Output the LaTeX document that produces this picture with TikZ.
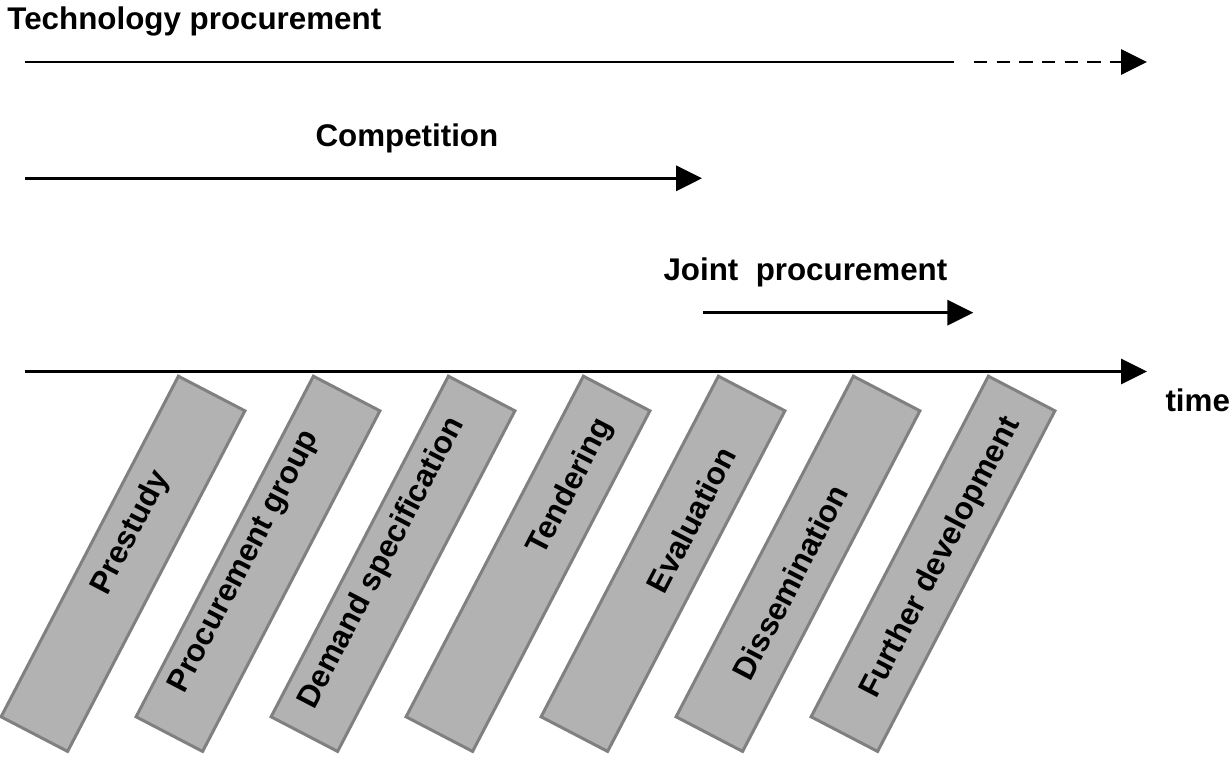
\documentclass[tikz,border=0pt]{standalone}
\usepackage{fontspec}
\setmainfont{Liberation Sans}
\usetikzlibrary{arrows.meta}

\tikzset{every picture/.style={line width=0.75pt}}
\tikzset{
	phase/.style={draw={rgb, 255:red, 128; green, 128; blue, 128 }, fill={rgb, 255:red, 178; green, 178; blue, 178 }, line width=2.25pt, minimum width=288pt, minimum height=56.25pt, inner sep=0pt, rotate=62.5},
	phase label/.style={font=\fontsize{23.5}{28}\selectfont\bfseries, inner sep=0pt, rotate=62.5},
	head label/.style={font=\fontsize{23.5}{28}\selectfont\bfseries, inner sep=0pt, anchor=base west},
	period/.style={line width=2.6pt, -{Triangle[length=19.5pt,width=18.75pt]}}
}

\begin{document}
\begin{tikzpicture}[x=0.75pt,y=0.75pt,yscale=-1,xscale=1]
	\useasboundingbox (0,0) rectangle (1229,758);

	%Arrow ends
	\coordinate (tp start) at (25,62);
	\coordinate (tp solid end) at (954,62);
	\coordinate (tp dash start) at (974,62);
	\coordinate (tp end) at (1147,62);
	\coordinate (comp start) at (25,178.3);
	\coordinate (comp end) at (702,178.3);
	\coordinate (joint start) at (703,312.7);
	\coordinate (joint end) at (973.3,312.7);
	\coordinate (time start) at (25,371.5);
	\coordinate (time end) at (1147,371.5);

	%Straight Lines
	\draw [line width=1.7pt] (tp start) -- (tp solid end);
	\draw [period, line width=2.2pt, dash pattern=on 10pt off 7pt] (tp dash start) -- (tp end);
	\draw [period] (comp start) -- (comp end);
	\draw [period] (joint start) -- (joint end);
	\draw [period] (time start) -- (time end);

	%Shapes: phase boxes
	\node [phase] (prestudy) at (123,563.8) {};
	\node [phase] (group) at (258,563.8) {};
	\node [phase] (demand) at (393,563.8) {};
	\node [phase] (tendering) at (528,563.8) {};
	\node [phase] (evaluation) at (663,563.8) {};
	\node [phase] (dissemination) at (798,563.8) {};
	\node [phase] (further) at (933,563.8) {};

	% Text Node
	\node [head label] (tp label) at (7,29) {Technology procurement};
	% Text Node
	\node [head label] (comp label) at (315,146.5) {Competition};
	% Text Node
	\node [head label] (joint label) at (663,280) {Joint~~procurement};
	% Text Node
	\node [head label] (time label) at (1165,411) {time};
	% Text Node
	\node [phase label] (prestudy text) at (131,533) {Prestudy};
	% Text Node
	\node [phase label] (group text) at (245,562) {Procurement group};
	% Text Node
	\node [phase label] (demand text) at (382,563) {Demand specification};
	% Text Node
	\node [phase label] (tendering text) at (571,487) {Tendering};
	% Text Node
	\node [phase label] (evaluation text) at (691,520) {Evaluation};
	% Text Node
	\node [phase label] (dissemination text) at (790,582) {Dissemination};
	% Text Node
	\node [phase label] (further text) at (941,558) {Further development};

\end{tikzpicture}
\end{document}
